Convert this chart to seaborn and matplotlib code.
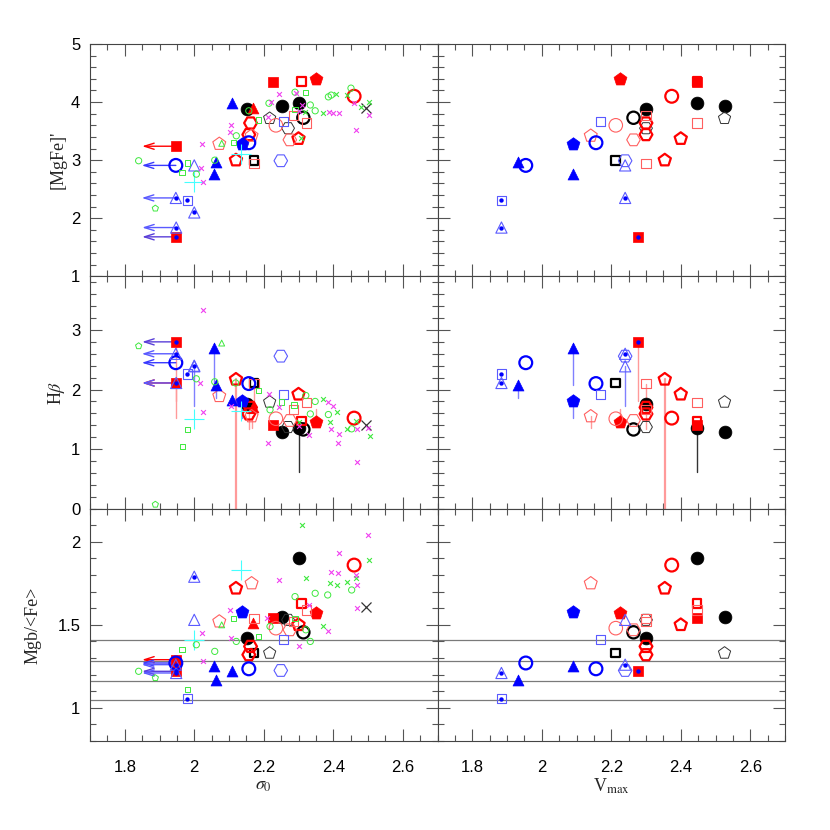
import numpy as np
import pandas as pd
import matplotlib
matplotlib.use('Agg')
import matplotlib.pyplot as plt
from matplotlib.ticker import MultipleLocator, FuncFormatter
import seaborn as sns

sns.set_style('ticks')
plt.rcParams['font.family'] = ['Liberation Sans', 'DejaVu Sans']
plt.rcParams['mathtext.fontset'] = 'stix'

# ---- main sample: one entry per galaxy (log sigma0, log Vmax, [MgFe]', Hbeta, Mgb/<Fe>)
gal_style = ['bk_fill', 'bk_fill', 'bk_fill', 'bk_circ', 'bk_sq', 'bk_pent', 'bk_hex', 'bk_x',
             'rd_sqf', 'rd_sq', 'rd_pentf', 'rd_circ', 'rd_pent', 'rd_pent', 'rd_hex', 'rd_hex',
             'rd_trif', 'rd_sq_thin', 'rd_sq_thin', 'rd_sq_thin', 'rd_circ_thin', 'rd_hex_thin',
             'rd_pent_thin', 'rd_pent_thin', 'rd_sqf_dot', 'rd_sqf',
             'bl_trif', 'bl_trif', 'bl_trif', 'bl_pentf', 'bl_circ', 'bl_circ', 'bl_sq_thin',
             'bl_hex_thin', 'bl_tri_thin', 'bl_tri_dot', 'bl_tri_dot', 'bl_tri_dot', 'bl_sq_dot',
             'cy_plus', 'cy_plus']
gal_sigma = [2.153, 2.252, 2.300, 2.314, 2.172, 2.217, 2.270, 2.495,
             2.228, 2.309, 2.350, 2.460, 2.120, 2.300, 2.162, 2.157,
             2.170, 2.286, 2.324, 2.172, 2.235, 2.275,
             2.072, 2.165, 1.948, 1.948,
             2.110, 2.063, 2.058, 2.138, 1.947, 2.157, 2.257,
             2.249, 2.000, 1.947, 2.000, 1.948, 1.980,
             2.000, 2.134]
gal_vmax = [2.300, 2.526, 2.447, 2.264, 2.213, 2.526, 2.300, np.nan,
            2.447, 2.447, 2.225, 2.374, 2.354, 2.400, 2.300, 2.300,
            np.nan, 2.300, 2.447, 2.300, 2.213, 2.264,
            np.nan, 2.141, 2.277, np.nan,
            np.nan, 1.931, 2.091, 2.091, 1.954, 2.156, 2.170,
            2.240, 2.240, 2.240, np.nan, 1.884, 1.884,
            np.nan, np.nan]
gal_mgfe = [3.88, 3.93, 3.99, 3.73, 3.00, 3.72, 3.55, 3.90,
            4.35, 4.35, 4.39, 4.10, 3.00, 3.37, 3.64, 3.44,
            3.90, 3.77, 3.64, 2.94, 3.60, 3.35,
            3.28, 3.42, 1.68, 3.24,
            3.99, 2.97, 2.77, 3.28, 2.91, 3.30, 3.67,
            2.99, 2.91, 2.35, 2.10, 1.84, 2.31,
            2.63, 3.10]
gal_hbeta = [1.75, 1.28, 1.36, 1.33, 2.11, 1.79, 1.37, 1.40,
             1.40, 1.47, 1.46, 1.52, 2.17, 1.92, 1.70, 1.59,
             1.70, 1.66, 1.78, 2.10, 1.51, 1.48,
             1.89, 1.55, 2.80, 2.11,
             1.82, 2.08, 2.69, 1.80, 2.45, 2.10, 1.92,
             2.56, 2.39, 2.60, 2.40, 2.11, 2.26,
             1.50, 1.64]
gal_ratio = [1.42, 1.55, 1.90, 1.455, 1.33, 1.33, 1.53, 1.61,
             1.54, 1.63, 1.57, 1.86, 1.72, 1.50, 1.37, 1.32,
             1.51, 1.52, 1.59, 1.54, 1.48, 1.47,
             1.52, 1.75, 1.22, 1.29,
             1.22, 1.17, 1.25, 1.58, 1.27, 1.235, 1.41,
             1.225, 1.53, 1.26, 1.79, 1.21, 1.055,
             1.41, 1.83]
# upper limits on sigma0
sig_limit = [False] * 24 + [True, True] + [False] * 4 + [True] + [False] * 4 + [True, False, True, False, False, False]
# vertical Hbeta error segments (low, high)
hb_low = [np.nan, np.nan, 0.61, np.nan, np.nan, np.nan, np.nan, np.nan,
          np.nan, np.nan, np.nan, np.nan, 0.0, np.nan, np.nan, 1.33,
          np.nan, np.nan, np.nan, 1.72, np.nan, np.nan,
          np.nan, 1.36, 1.80, 1.53,
          np.nan, 1.85, 2.08, 1.52, np.nan, np.nan, np.nan,
          np.nan, 1.72, np.nan, np.nan, np.nan, np.nan,
          np.nan, np.nan]
hb_high = [np.nan] * 10 + [1.68] + [np.nan] * 30

# ---- comparison samples (left panels only)
top_cmp_sig = [2.29, 2.215, 2.157, 2.334, 2.348, 2.386, 2.394, 2.451, 2.121, 1.84, 2.006, 2.059,
               2.319, 2.185, 2.29, 2.114, 1.98, 1.965, 1.888, 2.079,
               2.32, 2.408, 2.371, 2.44, 2.504, 2.307, 2.48,
               2.244, 2.292, 2.22, 2.211, 2.31, 2.30, 2.387, 2.398, 2.416, 2.466, 2.502, 2.46,
               2.105, 2.102, 2.018, 2.026, 2.023]
top_cmp_val = [4.17, 3.98, 3.85, 3.95, 3.85, 4.09, 4.12, 4.24, 3.42, 2.99, 2.76, 3.00,
               4.16, 3.69, 3.87, 3.30, 2.95, 2.79, 2.17, 3.29,
               3.83, 4.14, 3.82, 4.13, 4.00, 3.38, 3.92,
               4.14, 4.16, 4.01, 3.74, 3.95, 3.85, 3.83, 3.81, 3.82, 3.52, 3.77, 3.98,
               3.60, 3.49, 2.86, 2.62, 3.28]
top_cmp_kind = ['go'] * 12 + ['gs'] * 6 + ['gp', 'g^'] + ['gx'] * 7 + ['mx'] * 17

mid_cmp_sig = [2.006, 2.059, 2.119, 2.218, 2.321, 2.348, 2.334, 2.386, 2.453,
               1.98, 1.966, 2.185, 2.251, 2.287, 1.84, 1.888, 2.079,
               2.371, 2.411, 2.39, 2.439, 2.466, 2.506, 2.30,
               2.025, 2.016, 2.025, 2.105, 2.215, 2.244, 2.211, 2.386, 2.398, 2.394, 2.417,
               2.413, 2.468, 2.501, 2.468, 2.302, 2.331]
mid_cmp_val = [2.18, 2.13, 2.11, 1.66, 1.90, 1.80, 1.59, 1.58, 1.34,
               1.33, 1.05, 1.99, 1.79, 1.74, 2.73, 0.07, 2.78,
               1.84, 1.62, 1.45, 1.33, 1.47, 1.22, 1.45,
               3.34, 2.11, 1.63, 1.72, 1.93, 1.70, 1.10, 1.79, 1.72, 1.33, 1.26,
               1.10, 1.33, 1.36, 0.78, 1.38, 1.23]
mid_cmp_kind = ['go'] * 9 + ['gs'] * 5 + ['gp', 'gp', 'g^'] + ['gx'] * 7 + ['mx'] * 17

bot_cmp_sig = [2.453, 2.384, 2.348, 2.29, 2.218, 2.121, 2.321, 2.334, 2.006, 2.059, 1.84,
               2.113, 2.185, 2.29, 1.965, 1.98, 2.079, 1.888,
               2.31, 2.504, 2.321, 2.39, 2.41, 2.439, 2.466, 2.371,
               2.501, 2.417, 2.244, 2.394, 2.413, 2.468, 2.466, 2.331, 2.468, 2.102, 2.209,
               2.107, 2.386, 2.30, 2.023, 2.025]
bot_cmp_val = [1.71, 1.68, 1.69, 1.67, 1.49, 1.40, 1.47, 1.40, 1.38, 1.34, 1.22,
               1.54, 1.43, 1.54, 1.35, 1.11, 1.50, 1.18,
               2.10, 1.89, 1.78, 1.75, 1.74, 1.76, 1.78, 1.49,
               2.04, 1.93, 1.77, 1.82, 1.81, 1.74, 1.80, 1.62, 1.60, 1.59, 1.54,
               1.42, 1.46, 1.37, 1.45, 1.28]
bot_cmp_kind = ['go'] * 11 + ['gs'] * 5 + ['g^', 'gp'] + ['gx'] * 8 + ['mx'] * 16

ratio_lines = [1.41, 1.28, 1.16, 1.05]

# ---- styles: marker, size, face, edge, linewidth, central dot
LR = '#ff5f5f'
LB = '#5a5aff'
styles = {
    'bk_fill': ('o', 85, 'black', 'black', 0.5, False),
    'bk_circ': ('o', 78, 'none', 'black', 1.6, False),
    'bk_sq': ('s', 40, 'none', 'black', 1.6, False),
    'bk_pent': ('p', 85, 'none', '#333333', 0.7, False),
    'bk_hex': ('H', 85, 'none', '#333333', 0.7, False),
    'bk_x': ('x', 52, None, '#333333', 0.9, False),
    'rd_sqf': ('s', 42, 'red', 'red', 0.5, False),
    'rd_sq': ('s', 40, 'none', 'red', 1.6, False),
    'rd_pentf': ('p', 95, 'red', 'red', 0.5, False),
    'rd_circ': ('o', 85, 'none', 'red', 1.6, False),
    'rd_pent': ('p', 85, 'none', 'red', 1.6, False),
    'rd_hex': ('H', 85, 'none', 'red', 1.6, False),
    'rd_trif': ('^', 60, 'red', 'red', 0.5, False),
    'rd_sq_thin': ('s', 45, 'none', LR, 0.8, False),
    'rd_circ_thin': ('o', 95, 'none', LR, 0.8, False),
    'rd_hex_thin': ('H', 95, 'none', LR, 0.8, False),
    'rd_pent_thin': ('p', 95, 'none', LR, 0.8, False),
    'rd_sqf_dot': ('s', 42, 'red', 'red', 0.5, True),
    'bl_trif': ('^', 62, 'blue', 'blue', 0.5, False),
    'bl_pentf': ('p', 95, 'blue', 'blue', 0.5, False),
    'bl_circ': ('o', 85, 'none', 'blue', 1.6, False),
    'bl_sq_thin': ('s', 45, 'none', LB, 0.8, False),
    'bl_hex_thin': ('H', 95, 'none', LB, 0.8, False),
    'bl_tri_thin': ('^', 65, 'none', LB, 0.8, False),
    'bl_tri_dot': ('^', 65, 'none', LB, 0.8, True),
    'bl_sq_dot': ('s', 45, 'none', LB, 0.8, True),
    'cy_plus': ('+', 210, None, '#44ffff', 0.8, False),
}
cmp_styles = {
    'go': ('o', 20, 'none', '#3ee83e', 0.7),
    'gs': ('s', 14, 'none', '#3ee83e', 0.7),
    'gp': ('p', 22, 'none', '#3ee83e', 0.7),
    'g^': ('^', 18, 'none', '#3ee83e', 0.7),
    'gx': ('x', 12, None, '#3ee83e', 0.8),
    'mx': ('x', 12, None, '#f040f0', 0.8),
}
err_colors = {'bk': '#333333', 'rd': '#ff9a9a', 'bl': '#8080ff', 'cy': '#44ffff'}
arrow_colors = {'rd_sqf_dot': '#5a3fd8', 'rd_sqf': 'red', 'bl_circ': '#3a3aff',
                'bl_tri_dot': LB}

gal = pd.DataFrame({'style': gal_style, 'sigma': gal_sigma, 'vmax': gal_vmax,
                    'mgfe': gal_mgfe, 'hbeta': gal_hbeta, 'ratio': gal_ratio,
                    'lim': sig_limit, 'hb_lo': hb_low, 'hb_hi': hb_high})


def draw_marks(ax, xs, ys, marker, s, face, edge, lw, z):
    if face is None:
        sns.scatterplot(x=xs, y=ys, ax=ax, marker=marker, s=s, color=edge,
                        linewidth=lw, legend=False, zorder=z)
    else:
        sns.scatterplot(x=xs, y=ys, ax=ax, marker=marker, s=s, color=edge,
                        facecolor=face, edgecolor=edge, linewidth=lw,
                        legend=False, zorder=z)


W, H = 830, 830
fig = plt.figure(figsize=(W / 100, H / 100), dpi=100)
x0, x1, y_top, y_bot = 90, 785, 44, 741
pw = (x1 - x0) / 2
ph = (y_bot - y_top) / 3

rows = ['mgfe', 'hbeta', 'ratio']
cols = ['sigma', 'vmax']
ylims = {'mgfe': (1, 5), 'hbeta': (0, 3.9), 'ratio': (0.8, 2.2)}
ylabels = {'mgfe': "[MgFe]'", 'hbeta': r'H$\beta$', 'ratio': 'Mgb/<Fe>'}
ylabelpads = {'mgfe': 3, 'hbeta': 3, 'ratio': 11}
cmp_data = {'mgfe': (top_cmp_sig, top_cmp_val, top_cmp_kind),
            'hbeta': (mid_cmp_sig, mid_cmp_val, mid_cmp_kind),
            'ratio': (bot_cmp_sig, bot_cmp_val, bot_cmp_kind)}

for r, yv in enumerate(rows):
    for c, xv in enumerate(cols):
        left = (x0 + c * pw) / W
        bottom = 1 - (y_top + (r + 1) * ph) / H
        ax = fig.add_axes([left, bottom, pw / W, ph / H])
        ax.set_xlim(1.7, 2.7)
        ax.set_ylim(*ylims[yv])

        if yv == 'ratio':
            for v in ratio_lines:
                ax.axhline(v, color='#7a7a7a', lw=0.9, zorder=1)

        # error segments
        if yv == 'hbeta':
            for _, g in gal.iterrows():
                xx = g[xv]
                if np.isnan(xx):
                    continue
                ec = err_colors[g['style'][:2]]
                if not np.isnan(g['hb_lo']):
                    ax.plot([xx, xx], [g['hb_lo'], g['hbeta']], color=ec,
                            lw=1.6 if g['style'] == 'rd_pent' else 1.0, zorder=2)
                if not np.isnan(g['hb_hi']):
                    ax.plot([xx, xx], [g['hbeta'], g['hb_hi']], color=ec, lw=1.0, zorder=2)

        # upper limit arrows on sigma0
        if xv == 'sigma':
            for _, g in gal[gal['lim']].iterrows():
                ax.annotate('', xy=(g['sigma'] - 0.098, g[yv]), xytext=(g['sigma'], g[yv]),
                            arrowprops=dict(arrowstyle='->,head_length=0.7,head_width=0.22',
                                            color=arrow_colors[g['style']], lw=1.0,
                                            shrinkA=0, shrinkB=0), zorder=2)

        # main galaxies
        for st, grp in gal.groupby('style', sort=False):
            marker, s, face, edge, lw, dot = styles[st]
            draw_marks(ax, grp[xv].tolist(), grp[yv].tolist(), marker, s, face, edge, lw, 3)
            if dot:
                draw_marks(ax, grp[xv].tolist(), grp[yv].tolist(), 'o', 10, 'blue', 'blue', 0, 3.5)

        # comparison samples
        if xv == 'sigma':
            cs, cvals, ck = cmp_data[yv]
            cdf = pd.DataFrame({'x': cs, 'y': cvals, 'k': ck})
            for k, grp in cdf.groupby('k', sort=False):
                marker, s, face, edge, lw = cmp_styles[k]
                draw_marks(ax, grp['x'].tolist(), grp['y'].tolist(), marker, s, face, edge, lw, 4)

        # axes cosmetics
        ax.xaxis.set_major_locator(MultipleLocator(0.2))
        ax.xaxis.set_minor_locator(MultipleLocator(0.05))
        if yv == 'ratio':
            ax.yaxis.set_major_locator(MultipleLocator(0.5))
            ax.yaxis.set_minor_locator(MultipleLocator(0.1))
        else:
            ax.yaxis.set_major_locator(MultipleLocator(1))
            ax.yaxis.set_minor_locator(MultipleLocator(0.2))
        fmt = FuncFormatter(lambda v, p: f'{v:g}')
        ax.xaxis.set_major_formatter(fmt)
        ax.yaxis.set_major_formatter(fmt)
        ax.tick_params(which='both', direction='in', top=True, right=True,
                       color='#555555', width=0.8, labelsize=12, labelcolor='black')
        ax.tick_params(which='major', length=8.5)
        ax.tick_params(which='minor', length=4.3)
        ax.tick_params(axis='x', pad=14)
        ax.tick_params(axis='y', pad=7)
        for sp in ax.spines.values():
            sp.set_color('#444444')
            sp.set_linewidth(0.8)
        ax.set_xlabel('')
        ax.set_ylabel('')

        if r < 2:
            ax.tick_params(labelbottom=False)
        else:
            ax.set_xlabel(r'$\sigma_0$' if xv == 'sigma' else r'V$_{\rm max}$',
                          fontsize=13, family='Liberation Serif', labelpad=1)
        if c == 1:
            ax.tick_params(labelleft=False)
        else:
            ax.set_ylabel(ylabels[yv], fontsize=13, family='Liberation Serif',
                          labelpad=ylabelpads[yv])
            if yv == 'hbeta':
                ax.set_yticks([0, 1, 2, 3])

fig.savefig('out.png', dpi=100, facecolor='white')
